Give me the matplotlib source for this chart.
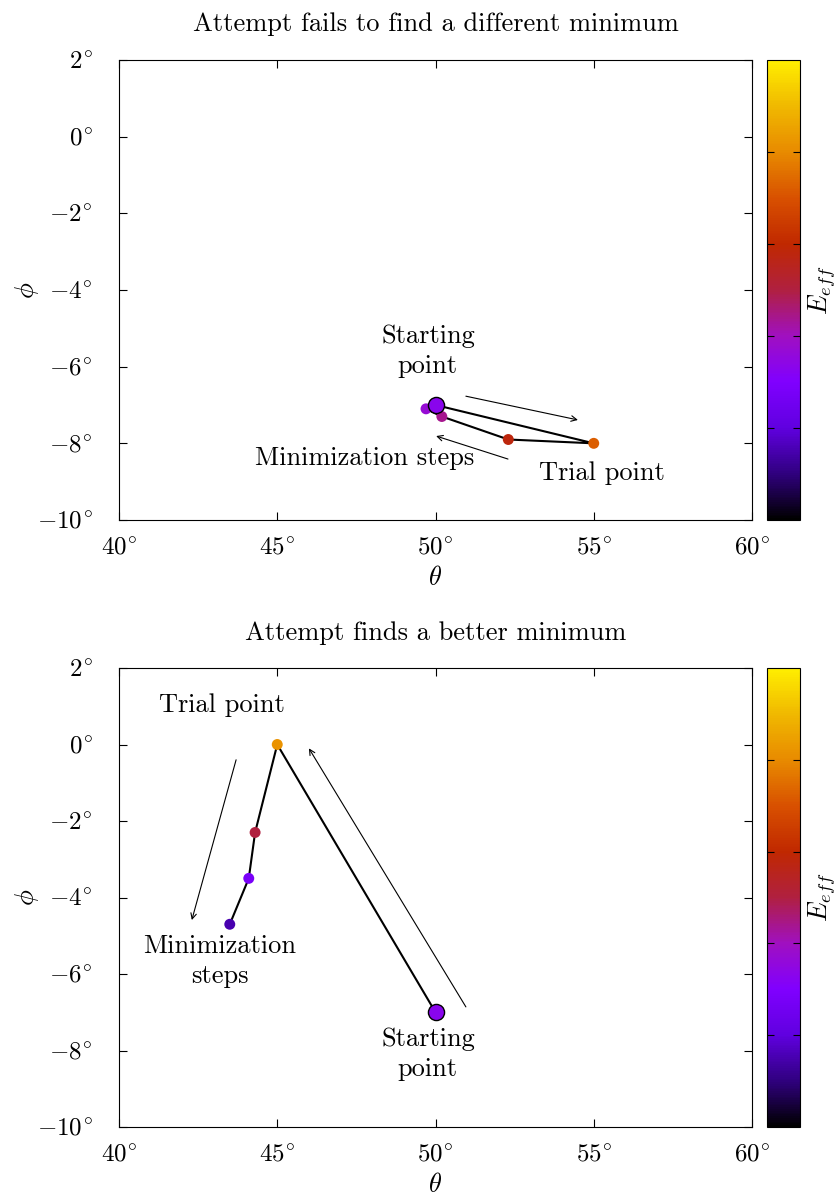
import numpy as np
import matplotlib
matplotlib.use('Agg')
import matplotlib.pyplot as plt
from matplotlib.colors import LinearSegmentedColormap, Normalize
from matplotlib.cm import ScalarMappable

plt.rcParams['font.family'] = 'serif'
plt.rcParams['font.serif'] = ['cmr10', 'DejaVu Serif']
plt.rcParams['mathtext.fontset'] = 'cm'
plt.rcParams['axes.unicode_minus'] = False
plt.rcParams['axes.formatter.use_mathtext'] = True

# palette stops (value, colour)
pal_pos = [0.0, 0.1, 0.2, 0.3, 0.4, 0.5, 0.6, 0.7, 0.8, 0.9, 1.0]
pal_col = ['#000000', '#300080', '#6000e0', '#8000ff', '#a010c0', '#b02040',
           '#c02800', '#d85000', '#e88a00', '#f0b800', '#ffee00']
cmap = LinearSegmentedColormap.from_list('eff', list(zip(pal_pos, pal_col)))
norm = Normalize(0, 1)

titles = ['Attempt fails to find a different minimum', 'Attempt finds a better minimum']

# top panel: start, trial, then minimization steps
theta1 = [50.0, 55.0, 52.3, 50.2, 49.7]
phi1 = [-7.0, -8.0, -7.9, -7.3, -7.1]
eff1 = [0.33, 0.72, 0.58, 0.44, 0.37]

# bottom panel
theta2 = [50.0, 45.0, 44.3, 44.1, 43.5]
phi2 = [-7.0, 0.0, -2.3, -3.5, -4.7]
eff2 = [0.33, 0.82, 0.50, 0.28, 0.15]

xticks = [40, 45, 50, 55, 60]
yticks = [-10, -8, -6, -4, -2, 0, 2]

# annotations: (text, x, y), arrows: (x0, y0, x1, y1)
labels1 = [('Starting\npoint', 49.76, -5.6), ('Minimization steps', 47.77, -8.38),
           ('Trial point', 55.26, -8.77)]
arrows1 = [(50.96, -6.77, 54.5, -7.39), (52.29, -8.41, 50.02, -7.81)]
labels2 = [('Trial point', 43.25, 1.03), ('Minimization\nsteps', 43.19, -5.66),
           ('Starting\npoint', 49.76, -8.09)]
arrows2 = [(43.7, -0.4, 42.3, -4.59), (50.96, -6.86, 46.0, -0.1)]

W, H = 839, 1195
fig = plt.figure(figsize=(W / 100, H / 100), dpi=100)

panels = [(theta1, phi1, eff1, labels1, arrows1, 60, 520, 21),
          (theta2, phi2, eff2, labels2, arrows2, 668, 1127, 20)]


def deg(v):
    return r'$%d^{\!\circ}$' % v


for i, (th, ph, ef, labs, arrs, top, bot, tpad) in enumerate(panels):
    ax = fig.add_axes([119 / W, 1 - bot / H, (752 - 119) / W, (bot - top) / H])
    ax.plot(th, ph, color='black', lw=1.5, zorder=2)
    ax.scatter(th[1:], ph[1:], c=ef[1:], cmap=cmap, norm=norm, s=62, zorder=3,
               edgecolors='none')
    ax.scatter(th[:1], ph[:1], c=ef[:1], cmap=cmap, norm=norm, s=135, zorder=4,
               edgecolors='black', linewidths=1.0)
    for x0, y0, x1, y1 in arrs:
        ax.annotate('', xy=(x1, y1), xytext=(x0, y0),
                    arrowprops=dict(arrowstyle='->', lw=0.8, color='black',
                                    shrinkA=0, shrinkB=0,
                                    mutation_scale=10))
    for txt, x, y in labs:
        ax.text(x, y, txt, ha='center', va='center', fontsize=19,
                linespacing=1.35)
    ax.set_xlim(40, 60)
    ax.set_ylim(-10, 2)
    ax.set_xticks(xticks)
    ax.set_xticklabels([deg(v) for v in xticks])
    ax.set_yticks(yticks)
    ax.set_yticklabels([deg(v) for v in yticks])
    ax.tick_params(direction='in', top=True, right=True, length=6, width=0.8,
                   labelsize=18)
    ax.tick_params(axis='x', pad=12.5)
    ax.tick_params(axis='y', pad=19)
    ax.set_xlabel(r'$\theta$', fontsize=19, labelpad=4.5)
    ax.set_ylabel(r'$\phi$', fontsize=19, labelpad=-3)
    ax.set_title(titles[i], fontsize=19, pad=tpad)

    cax = fig.add_axes([767 / W, 1 - bot / H, (800 - 767) / W, (bot - top) / H])
    cb = fig.colorbar(ScalarMappable(norm=norm, cmap=cmap), cax=cax)
    cb.set_ticks([0.2, 0.4, 0.6, 0.8])
    cax.tick_params(direction='in', left=True, right=True, labelright=False,
                    length=5, width=0.8)
    cb.outline.set_linewidth(0.8)
    cb.set_label(r'$E_{eff}$', fontsize=19, labelpad=4)

fig.savefig('out.png', dpi=100)
